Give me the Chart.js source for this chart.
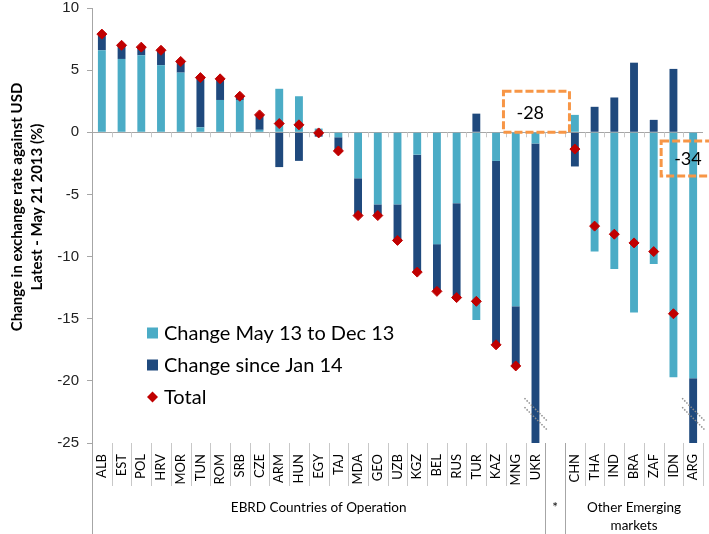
<!DOCTYPE html>
<html>
<head>
<meta charset="utf-8">
<script src="https://cdn.jsdelivr.net/npm/chart.js@4.4.1/dist/chart.umd.min.js"></script>
<style>
  html, body { margin: 0; padding: 0; background: #fff; }
  #wrap { width: 709px; height: 534px; position: relative; }
</style>
</head>
<body>
<div id="wrap"><canvas id="fxChart"></canvas></div>
<script>
const countries = ['ALB', 'EST', 'POL', 'HRV', 'MOR', 'TUN', 'ROM', 'SRB', 'CZE', 'ARM', 'HUN', 'EGY', 'TAJ',
  'MDA', 'GEO', 'UZB', 'KGZ', 'BEL', 'RUS', 'TUR', 'KAZ', 'MNG', 'UKR', '',
  'CHN', 'THA', 'IND', 'BRA', 'ZAF', 'IDN', 'ARG'];
const changeMayDec = [6.6, 5.9, 6.2, 5.4, 4.8, 0.4, 2.6, 2.6, 0.2, 3.5, 2.9, 0.3, -0.4,
  -3.7, -5.8, -5.8, -1.8, -9.0, -5.7, -15.1, -2.3, -14.0, -0.9, null,
  1.4, -9.6, -11.0, -14.5, -10.6, -19.7, -19.8];
const changeSinceJan = [1.3, 1.1, 0.65, 1.2, 0.9, 4.0, 1.7, 0.3, 1.2, -2.8, -2.3, -0.35, -1.1,
  -3.0, -0.9, -2.9, -9.45, -3.8, -7.6, 1.5, -14.8, -4.8, -27.1, null,
  -2.75, 2.05, 2.8, 5.6, 1.0, 5.1, -14.2];
const totalChange = [7.9, 7.0, 6.85, 6.6, 5.7, 4.4, 4.3, 2.9, 1.4, 0.7, 0.6, -0.05, -1.5,
  -6.7, -6.7, -8.7, -11.25, -12.8, -13.3, -13.6, -17.1, -18.8, -28, null,
  -1.35, -7.55, -8.2, -8.9, -9.6, -14.6, -34];

const groupNames = [['EBRD Countries of Operation'], ['*'], ['Other Emerging', 'markets']];
const groupSizes = [23, 1, 7];
const offScale = ['UKR', 'ARG'];   // totals beyond the axis, shown in callout boxes
const yTitle = ['Change in exchange rate against USD', 'Latest - May 21 2013 (%)'];
const seriesNames = ['Change May 13 to Dec 13', 'Change since Jan 14', 'Total'];

const LIGHT = '#4BACC6', DARK = '#1F497D', RED = '#C00000';
const AXIS = '#a6a6a6';

const extras = {
  id: 'extras',
  beforeDatasetsDraw(chart) {
    const { ctx, chartArea: a, scales: { y } } = chart;
    const w = (a.right - a.left) / countries.length;
    const y0 = y.getPixelForValue(0);
    ctx.save();
    ctx.strokeStyle = '#c8c8c8';
    ctx.lineWidth = 1;
    for (let i = 1; i < countries.length; i++) {
      const bx = Math.round(a.left + i * w) + 0.5;
      ctx.beginPath();
      ctx.moveTo(bx, y0);
      ctx.lineTo(bx, y0 + 5);
      ctx.stroke();
    }
    ctx.restore();
  },
  afterDraw(chart) {
    const { ctx, chartArea: a, scales: { x, y } } = chart;
    const w = (a.right - a.left) / countries.length;
    const H = chart.height;
    ctx.save();

    // category separators under the axis
    ctx.lineWidth = 1;
    let idx = 0;
    const groupEdges = [0];
    groupSizes.forEach(n => { idx += n; groupEdges.push(idx); });
    for (let i = 0; i <= countries.length; i++) {
      const bx = Math.round(a.left + i * w) + 0.5;
      const full = groupEdges.includes(i) && i < countries.length;
      ctx.strokeStyle = full ? AXIS : '#c8c8c8';
      ctx.beginPath();
      ctx.moveTo(bx, a.bottom);
      ctx.lineTo(bx, full ? H : a.bottom + 43);
      ctx.stroke();
    }

    // group labels
    ctx.fillStyle = '#000';
    ctx.font = '13.5px Lato';
    ctx.textAlign = 'center';
    ctx.textBaseline = 'middle';
    for (let g = 0; g < groupNames.length; g++) {
      const cx = a.left + (groupEdges[g] + groupEdges[g + 1]) / 2 * w;
      groupNames[g].forEach((t, k) => ctx.fillText(t, cx, a.bottom + 65 + k * 18));
    }

    // y axis title
    ctx.font = 'bold 15px Lato';
    yTitle.forEach((t, k) => {
      ctx.save();
      ctx.translate(17 + k * 20, 207);
      ctx.rotate(-Math.PI / 2);
      ctx.fillText(t, 0, 0);
      ctx.restore();
    });

    // legend
    const lx = a.left + 55, ly = a.top + 325;
    ctx.font = '20px Lato';
    ctx.textAlign = 'left';
    [LIGHT, DARK].forEach((c, k) => {
      ctx.fillStyle = c;
      ctx.fillRect(lx, ly + k * 32 - 5.5, 11, 11);
    });
    ctx.fillStyle = RED;
    ctx.beginPath();
    ctx.moveTo(lx + 5.5, ly + 64 - 5.5);
    ctx.lineTo(lx + 11, ly + 64);
    ctx.lineTo(lx + 5.5, ly + 64 + 5.5);
    ctx.lineTo(lx, ly + 64);
    ctx.closePath();
    ctx.fill();
    ctx.fillStyle = '#000';
    seriesNames.forEach((t, k) => ctx.fillText(t, lx + 17, ly + k * 32 + 1));

    // callouts for totals beyond the axis + break marks
    offScale.forEach((name, k) => {
      const i = countries.indexOf(name);
      const cx = x.getPixelForValue(i);
      const top = k === 0 ? y.getPixelForValue(3.3) : y.getPixelForValue(-0.7);
      const bh = k === 0 ? 41 : 35;
      ctx.strokeStyle = '#F79646';
      ctx.lineWidth = 3;
      ctx.setLineDash([8, 3]);
      ctx.strokeRect(cx - 32, top, 66, bh);
      ctx.setLineDash([]);
      ctx.fillStyle = '#000';
      ctx.font = '18px Lato';
      ctx.textAlign = 'left';
      ctx.fillText(String(totalChange[i]), cx - 19, top + bh / 2 + 1);

      const by = y.getPixelForValue(-21.4);
      ctx.strokeStyle = '#8c8c8c';
      ctx.lineWidth = 1.5;
      ctx.setLineDash([1.5, 1.5]);
      for (let j = 0; j < 2; j++) {
        ctx.beginPath();
        ctx.moveTo(cx - 11, by + j * 9);
        ctx.lineTo(cx + 12, by + j * 9 + 23);
        ctx.stroke();
      }
      ctx.setLineDash([]);
    });
    ctx.restore();
  }
};

new Chart(document.getElementById('fxChart').getContext('2d'), {
  type: 'bar',
  data: {
    labels: countries,
    datasets: [{
      label: seriesNames[0],
      data: changeMayDec,
      backgroundColor: LIGHT,
      barPercentage: 0.4,
      categoryPercentage: 1,
      order: 2
    }, {
      label: seriesNames[1],
      data: changeSinceJan,
      backgroundColor: DARK,
      barPercentage: 0.4,
      categoryPercentage: 1,
      order: 2
    }, {
      type: 'line',
      label: seriesNames[2],
      data: totalChange,
      stack: 'total',
      showLine: false,
      pointStyle: 'rectRot',
      pointRadius: 5,
      pointBorderWidth: 1,
      pointBackgroundColor: RED,
      pointBorderColor: RED,
      order: 1
    }]
  },
  options: {
    responsive: true,
    maintainAspectRatio: false,
    animation: false,
    layout: { padding: { top: 8, right: 1, left: 0, bottom: 0 } },
    plugins: {
      legend: { display: false },
      tooltip: { enabled: false }
    },
    scales: {
      x: {
        stacked: true,
        grid: { display: false },
        border: { display: false },
        ticks: {
          autoSkip: false,
          minRotation: 90,
          maxRotation: 90,
          padding: 3,
          color: '#000',
          font: { family: 'Lato', size: 13 }
        },
        afterFit: s => { s.height = 91; s.paddingLeft = 0; s.paddingRight = 0; }
      },
      y: {
        stacked: true,
        min: -25,
        max: 10,
        ticks: {
          stepSize: 5,
          padding: 8,
          color: '#222',
          font: { family: 'Liberation Sans', size: 15 }
        },
        grid: {
          color: c => (c.tick && c.tick.value === 0 ? AXIS : 'transparent'),
          tickColor: AXIS,
          tickLength: 5
        },
        border: { color: AXIS },
        afterFit: s => { s.width = 92; s.paddingTop = 0; s.paddingBottom = 0; }
      }
    }
  },
  plugins: [extras]
});
</script>
</body>
</html>
